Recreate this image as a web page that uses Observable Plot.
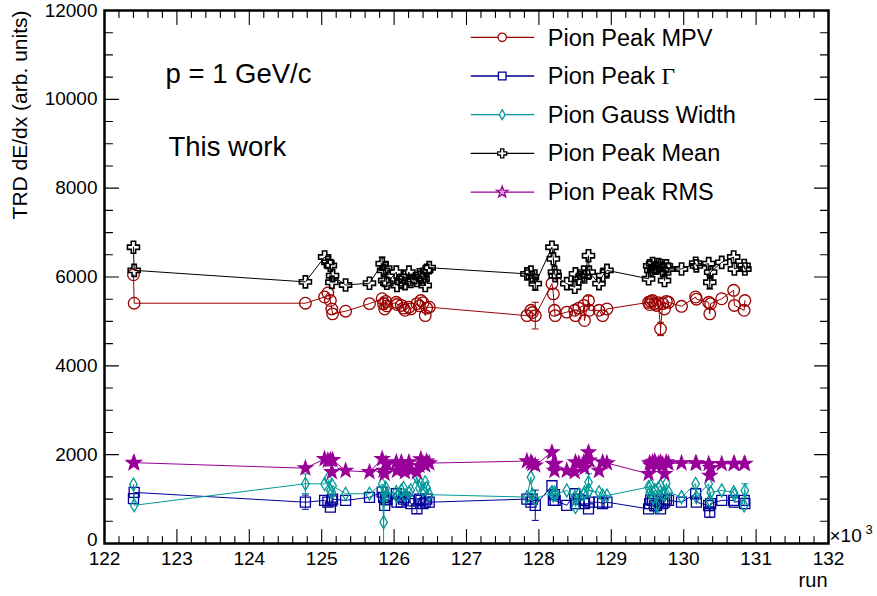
<!DOCTYPE html>
<html><head><meta charset="utf-8">
<script src="https://cdn.jsdelivr.net/npm/d3@7"></script>
<script src="https://cdn.jsdelivr.net/npm/@observablehq/plot@0.6"></script>
<style>body{margin:0;background:#fff}#chart svg{display:block}</style>
</head><body><div id="chart"></div>
<script>
// ---- data ----
const runs = [122400,122410,124775,125040,125085,125120,125140,125150,125330,125660,
  125835,125855,125870,125885,125900,126030,126040,126100,126130,126150,
  126205,126230,126315,126350,126370,126400,126430,126450,126485,
  127835,127890,127910,127950,128180,128200,128215,128225,128385,128495,128505,
  128550,128620,128630,128685,128695,128830,128880,128940,
  129515,129530,129545,129570,129600,129625,129650,129680,129710,129735,129760,129790,
  129970,130165,130175,130345,130360,130372,130525,130690,130700,130835,130845];
const mpv = [6050,5410,5410,5550,5640,5470,5280,5170,5230,5400,
  5510,5400,5280,5450,5350,5430,5380,5360,5300,5250,
  5320,5280,5400,5350,5470,5420,5130,5300,5320,
  5130,5250,5200,5130,5850,5620,5250,5130,5210,5250,5130,
  5300,5360,5020,5470,5250,5250,5130,5280,
  5430,5380,5450,5470,5400,5360,5420,4830,5400,5280,5450,5430,
  5340,5550,5500,5430,5170,5400,5510,5700,5360,5250,5470];
const gamma = [1010,1150,930,970,930,820,960,1000,970,1040,
  1155,1040,860,1000,980,1120,930,930,1000,1040,
  960,900,780,1000,970,900,930,1000,930,
  1000,930,1000,860,1300,970,1100,970,860,1120,900,
  1000,970,900,780,930,930,900,930,
  780,900,980,970,850,860,950,780,900,930,1000,970,
  930,1120,930,855,705,900,970,970,930,970,900];
const gauss = [1330,860,1345,1340,1460,1190,1150,1300,1120,1120,
  1340,480,1150,1250,1100,1155,1060,1195,1250,1080,
  1150,1200,1490,1250,1340,1200,1380,1250,1100,
  1045,1490,1100,1005,1155,1080,1150,1100,1195,1045,820,
  1100,1100,1150,1380,1190,1155,1080,1080,
  1270,1150,1300,1040,1200,855,1250,1300,1100,1100,1350,1160,
  1045,1345,1045,1345,970,1150,1195,1155,1100,855,1195];
const mean = [6670,6150,5890,6450,6330,6260,5880,6030,5820,5860,
  6300,6150,5920,6200,5860,6110,5810,5880,6000,5850,
  6110,5900,5920,6050,6000,5950,5810,6150,6210,
  6070,6110,6000,5850,6670,6410,6110,6030,5850,5770,6070,
  5950,6110,6000,6480,6110,5850,6030,6150,
  5960,6250,6150,6300,6200,6200,6280,6260,6150,5920,6250,6180,
  6180,6310,6250,6300,5880,6110,6330,6450,6180,6260,6180];
const rms = [1810,1820,1695,1905,1870,1880,1610,1880,1640,1610,
  1905,1640,1570,1800,1780,1830,1640,1830,1700,1610,
  1830,1650,1610,1750,1900,1800,1760,1850,1810,
  1855,1830,1790,1760,2055,1795,1640,1800,1640,1610,1830,
  1800,1830,1700,2055,1870,1640,1830,1810,
  1570,1810,1760,1830,1850,1760,1800,1830,1780,1570,1830,1800,
  1810,1810,1800,1795,1530,1700,1795,1795,1800,1795,1800];
// visible error bars: [series, run, error]
const errorBars = [["Gamma",124775,160],["Gauss",124775,220],["MPV",125855,130],["Mean",125835,150],
  ["Gauss",125855,480],["Gamma",126315,105],["Gauss",126315,120],["MPV",127950,300],["Mean",127950,150],
  ["Gamma",127950,340],["MPV",128685,100],["Gauss",128685,190],["MPV",129680,150],["Mean",130360,150],
  ["Gauss",130845,150],["Gamma",130360,120],["Gauss",129625,150]];
const seriesNames = ["Pion Peak MPV","Pion Peak Γ","Pion Gauss Width","Pion Peak Mean","Pion Peak RMS"];
const xTickLabels = [122,123,124,125,126,127,128,129,130,131,132];
const yTickLabels = [0,2000,4000,6000,8000,10000,12000];
const xAxisTitle = "run";
const yAxisTitle = "TRD dE/dx (arb. units)";
const notes = ["p = 1 GeV/c","This work"];

// ---- symbols (ROOT-like markers) ----
const rad = s => Math.sqrt(s / Math.PI);
const sym = {
  circle: {draw(c, s){const r = rad(s); c.moveTo(r,0); c.arc(0,0,r,0,2*Math.PI); c.closePath();}},
  square: {draw(c, s){const r = rad(s); c.rect(-r,-r,2*r,2*r);}},
  diamond: {draw(c, s){const r = rad(s), w = r*0.58; c.moveTo(0,-r); c.lineTo(w,0); c.lineTo(0,r); c.lineTo(-w,0); c.closePath();}},
  cross: {draw(c, s){const r = rad(s), w = r*0.36;
    const p = [[-w,-r],[w,-r],[w,-w],[r,-w],[r,w],[w,w],[w,r],[-w,r],[-w,w],[-r,w],[-r,-w],[-w,-w]];
    c.moveTo(p[0][0],p[0][1]); for (let i=1;i<p.length;i++) c.lineTo(p[i][0],p[i][1]); c.closePath();}},
  star: {draw(c, s){const R = rad(s), ri = R*0.4;
    for (let k=0;k<10;k++){const a = -Math.PI/2 + k*Math.PI/5, rr = k%2 ? ri : R;
      if (k===0) c.moveTo(rr*Math.cos(a), rr*Math.sin(a)); else c.lineTo(rr*Math.cos(a), rr*Math.sin(a));}
    c.closePath();}},
  cap: {draw(c){c.moveTo(-3.5,0); c.lineTo(3.5,0);}}
};
const tickShape = {draw(c, l){c.moveTo(0,0); c.lineTo(0,-l);}};

const series = [
  {key:"MPV",   name:seriesNames[0], values:mpv,   color:"#990000", symbol:sym.circle,  r:5.8, lr:4.2, fill:"none", sw:1.3},
  {key:"Gamma", name:seriesNames[1], values:gamma, color:"#000099", symbol:sym.square,  r:5,   lr:3.8, fill:"none", sw:1.3},
  {key:"Gauss", name:seriesNames[2], values:gauss, color:"#009999", symbol:sym.diamond, r:6.5, lr:5,   fill:"none", sw:1.3},
  {key:"Mean",  name:seriesNames[3], values:mean,  color:"#000000", symbol:sym.cross,   r:6,   lr:4.5, fill:"none", sw:1.6},
  {key:"RMS",   name:seriesNames[4], values:rms,   color:"#990099", symbol:sym.star,    r:7.5, lr:6,   fill:"#990099", sw:1.2}
];

const font = "Liberation Sans, Arial, Helvetica, sans-serif";
const xMajor = xTickLabels.map(d => d*1000);
const xMinor = d3.range(122000, 132001, 200).filter(d => d % 1000 !== 0);
const yMajor = yTickLabels;
const yMinor = d3.range(0, 12001, 500).filter(d => d % 2000 !== 0);

const marks = [];
// ticks on all four sides
const tk = (data, opts) => Plot.vector(data, {anchor:"start", shape:tickShape, stroke:"black", strokeWidth:1.1, ...opts});
marks.push(
  tk(xMajor, {x:d=>d, y:0, rotate:0, length:14}),
  tk(xMinor, {x:d=>d, y:0, rotate:0, length:7}),
  tk(xMajor, {x:d=>d, y:12000, rotate:180, length:14}),
  tk(xMinor, {x:d=>d, y:12000, rotate:180, length:7}),
  tk(yMajor, {x:122000, y:d=>d, rotate:90, length:14}),
  tk(yMinor, {x:122000, y:d=>d, rotate:90, length:8}),
  tk(yMajor, {x:132000, y:d=>d, rotate:-90, length:14}),
  tk(yMinor, {x:132000, y:d=>d, rotate:-90, length:8})
);

for (const s of series) {
  const pts = runs.map((r, i) => ({run:r, v:s.values[i]}));
  const errs = errorBars.filter(e => e[0] === s.key).map(e => ({run:e[1], v:s.values[runs.indexOf(e[1])], e:e[2]}))
    .map(d => ({run:d.run, lo:Math.max(0, d.v - d.e), hi:d.v + d.e}));
  marks.push(
    Plot.line(pts, {x:"run", y:"v", stroke:s.color, strokeWidth:1}),
    Plot.ruleX(errs, {x:"run", y1:"lo", y2:"hi", stroke:s.color, strokeWidth:1}),
    Plot.dot(errs.filter(d => d.lo > 0), {x:"run", y:"lo", symbol:sym.cap, r:3, stroke:s.color, strokeWidth:1}),
    Plot.dot(errs, {x:"run", y:"hi", symbol:sym.cap, r:3, stroke:s.color, strokeWidth:1}),
    Plot.dot(pts, {x:"run", y:"v", symbol:s.symbol, r:s.r, stroke:s.color, fill:s.fill, strokeWidth:s.sw})
  );
}

// frame
marks.push(Plot.frame({stroke:"black", strokeWidth:2.5}));

// tick labels
marks.push(
  Plot.text(xTickLabels, {x:d=>d*1000, y:0, text:d=>String(d), dy:21, lineAnchor:"bottom", textAnchor:"middle", fontSize:19, fill:"black"}),
  Plot.text(yTickLabels.filter(d => d > 0), {x:122000, y:d=>d, text:d=>String(d), dx:-7, textAnchor:"end", lineAnchor:"middle", fontSize:19, fill:"black"}),
  Plot.text(yTickLabels.filter(d => d === 0), {x:122000, y:d=>d, text:d=>String(d), dx:-7, dy:-4, textAnchor:"end", lineAnchor:"middle", fontSize:19, fill:"black"}),
  Plot.text(["×10"], {frameAnchor:"bottom-right", dx:1, dy:-1.5, textAnchor:"start", lineAnchor:"bottom", fontSize:19, fill:"black"}),
  Plot.text(["3"], {frameAnchor:"bottom-right", dx:37, dy:-10, textAnchor:"start", lineAnchor:"bottom", fontSize:13, fill:"black"}),
  Plot.text([xAxisTitle], {frameAnchor:"bottom-right", dx:-1, dy:43.7, textAnchor:"end", lineAnchor:"bottom", fontSize:20, fill:"black"}),
  Plot.text([yAxisTitle], {frameAnchor:"top-left", dx:-84, dy:0, rotate:-90, textAnchor:"end", lineAnchor:"middle", fontSize:21, fill:"black"}),
  Plot.text([notes[0]], {frameAnchor:"top-left", dx:61, dy:72, textAnchor:"start", lineAnchor:"bottom", fontSize:27.5, fill:"black"}),
  Plot.text([notes[1]], {frameAnchor:"top-left", dx:64, dy:145, textAnchor:"start", lineAnchor:"bottom", fontSize:27.5, fill:"black"})
);

// legend (inside the frame, top right)
series.forEach((s, i) => {
  const lineY = 26.8 + 38.7*i;   // offset from the frame top
  const baseY = 35 + 38.5*i;
  marks.push(
    Plot.vector([0], {frameAnchor:"top-left", dx:366.7, dy:lineY, rotate:90, length:62.6, anchor:"start", shape:tickShape, stroke:s.color, strokeWidth:1.3}),
    Plot.dot([0], {frameAnchor:"top-left", dx:397.7, dy:lineY, symbol:s.symbol, r:s.lr, stroke:s.color, fill:s.key === "RMS" ? "#d9a0d9" : "white", strokeWidth:1.3}),
    Plot.text([s.name], {frameAnchor:"top-left", dx:443.3, dy:baseY, textAnchor:"start", lineAnchor:"bottom", fontSize:23.5, fill:"black"})
  );
});

const chart = Plot.plot({
  width: 877, height: 596,
  marginLeft: 104, marginRight: 49, marginTop: 10, marginBottom: 53,
  x: {domain:[122000, 132000], axis:null},
  y: {domain:[0, 12000], axis:null},
  style: {fontFamily: font, background: "white", overflow: "visible"},
  marks
});
// serif Gamma as in ROOT's #Gamma
d3.select(chart).selectAll("text").filter(function(){ return this.textContent === seriesNames[1]; })
  .each(function(){
    const t = d3.select(this);
    t.text(seriesNames[1].slice(0, -1));
    t.append("tspan").attr("font-family", "Liberation Serif, Times New Roman, serif").text("Γ");
  });
document.getElementById("chart").appendChild(chart);
</script>
</body></html>
